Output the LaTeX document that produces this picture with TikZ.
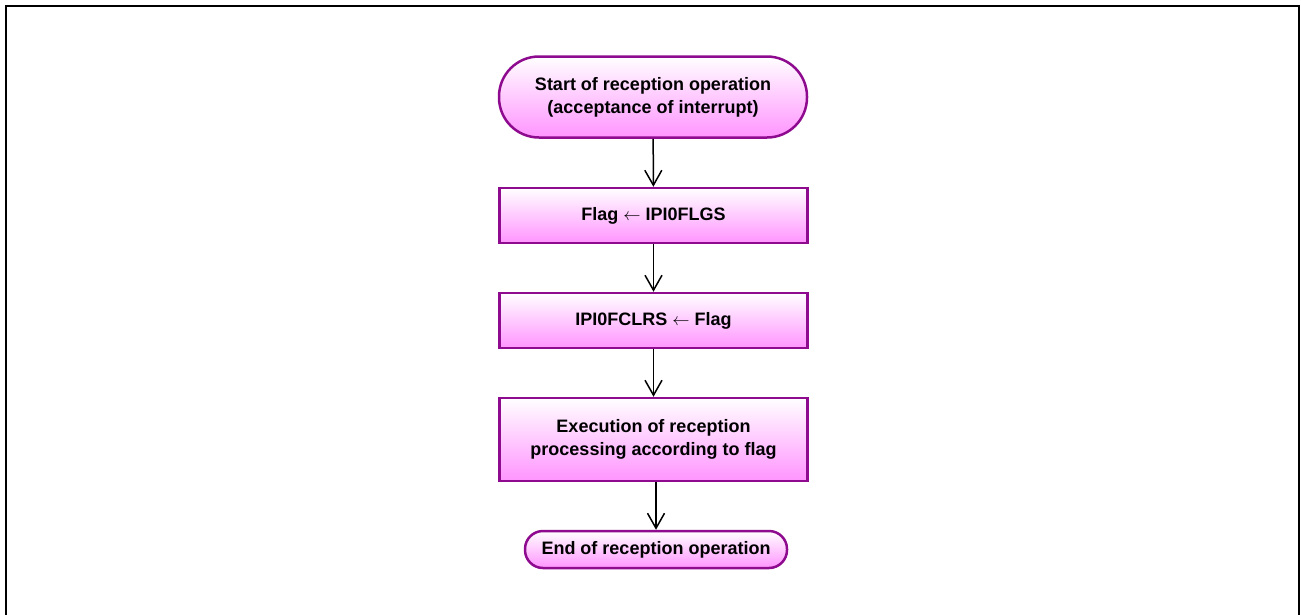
\documentclass[tikz,border=0pt]{standalone}
\usepackage{fontspec}
\setmainfont{Liberation Sans}
\usepackage{tikz}
\usetikzlibrary{arrows.meta,positioning}
\definecolor{edgec}{HTML}{8E0A8E}
\definecolor{pinkc}{HTML}{FF94FF}
\tikzset{
  ar/.style={-{Straight Barb[length=15pt,width=17pt,line width=1.5pt]},line width=1.5pt,black},
  proc/.style={draw=edgec,line width=2.5pt,top color=white,bottom color=pinkc,align=center,
    font=\fontsize{18}{23}\selectfont\bfseries,minimum width=308pt,inner sep=0pt},
  term/.style={proc,rounded corners=#1}
}
\begin{document}
\begin{tikzpicture}[x=1pt,y=-1pt]
\useasboundingbox (0,0) rectangle (1301,614);
\draw[line width=2pt] (6,630)--(6,6)--(1299,6)--(1299,630);
\node[term=40pt,minimum height=81pt] (start) at (653,97) {Start of reception operation\\(acceptance of interrupt)};
\node[proc,minimum height=55pt] (getf) at (653.5,215.5) {Flag $\leftarrow$ IPI0FLGS};
\node[proc,minimum height=55pt] (clrf) at (653.5,320.5) {IPI0FCLRS $\leftarrow$ Flag};
\node[proc,minimum height=83pt] (exec) at (653.5,439.5) {Execution of reception\\processing according to flag};
\node[term=18pt,minimum width=262pt,minimum height=37pt] (stop) at (656,549.5) {End of reception operation};
\draw[ar] (start)--(getf);
\draw[ar] (getf)--(clrf);
\draw[ar] (clrf)--(exec);
\draw[ar] (stop.north |- exec.south)--(stop.north);
\end{tikzpicture}
\end{document}
